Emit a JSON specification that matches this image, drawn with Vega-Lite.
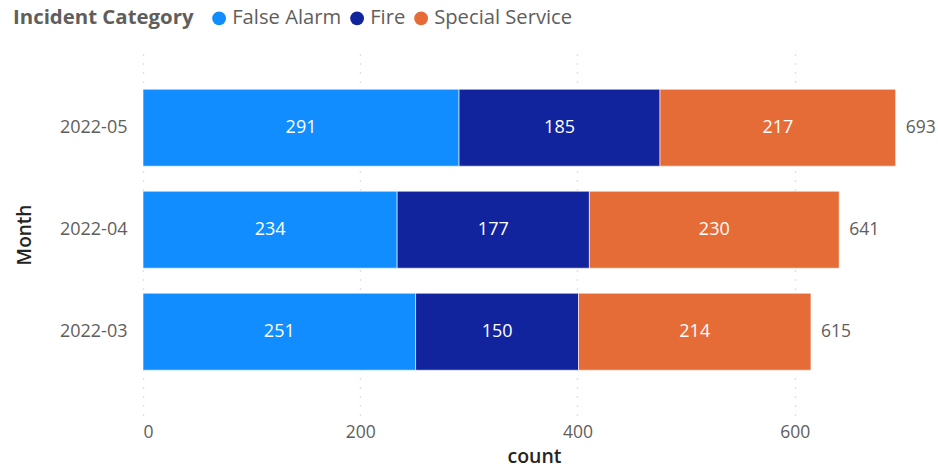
{
  "$schema": "https://vega.github.io/schema/vega-lite/v6.json",
  "autosize": "none",
  "width": 782,
  "height": 361,
  "padding": {"left": 143, "top": 54, "right": 13, "bottom": 58},
  "background": "white",
  "config": {
    "font": "Open Sans",
    "view": {"stroke": null}
  },
  "data": {
    "values": [
      {"Month": "2022-05", "Incident Category": "False Alarm", "count": 291, "ord": 1},
      {"Month": "2022-05", "Incident Category": "Fire", "count": 185, "ord": 2},
      {"Month": "2022-05", "Incident Category": "Special Service", "count": 217, "ord": 3},
      {"Month": "2022-04", "Incident Category": "False Alarm", "count": 234, "ord": 1},
      {"Month": "2022-04", "Incident Category": "Fire", "count": 177, "ord": 2},
      {"Month": "2022-04", "Incident Category": "Special Service", "count": 230, "ord": 3},
      {"Month": "2022-03", "Incident Category": "False Alarm", "count": 251, "ord": 1},
      {"Month": "2022-03", "Incident Category": "Fire", "count": 150, "ord": 2},
      {"Month": "2022-03", "Incident Category": "Special Service", "count": 214, "ord": 3}
    ]
  },
  "encoding": {
    "y": {
      "field": "Month",
      "type": "nominal",
      "sort": "descending",
      "scale": {"paddingInner": 0.245, "paddingOuter": 0.392, "align": 0.44},
      "axis": {
        "title": "Month",
        "titleFontSize": 19,
        "titleFontWeight": 600,
        "titleColor": "#252423",
        "titlePadding": 25,
        "labelFontSize": 18,
        "labelColor": "#605E5C",
        "labelPadding": 16,
        "ticks": false,
        "domain": false
      }
    }
  },
  "layer": [
    {
      "mark": {"type": "bar", "stroke": "white", "strokeWidth": 0.6},
      "encoding": {
        "x": {
          "field": "count",
          "type": "quantitative",
          "stack": "zero",
          "scale": {"domain": [0, 720], "nice": false},
          "axis": {
            "title": "count",
            "titleFontSize": 19.5,
            "titleFontWeight": 600,
            "titleColor": "#252423",
            "titlePadding": 7,
            "values": [0, 200, 400, 600],
            "labelFontSize": 17.5,
            "labelColor": "#605E5C",
            "labelPadding": 8,
            "ticks": false,
            "domain": false,
            "grid": true,
            "gridColor": "#C8C6C4",
            "gridDash": [1, 8],
            "gridWidth": 1.5
          }
        },
        "color": {
          "field": "Incident Category",
          "type": "nominal",
          "scale": {
            "domain": ["False Alarm", "Fire", "Special Service"],
            "range": ["#118DFF", "#12239E", "#E66C37"]
          },
          "legend": {
            "orient": "none",
            "legendX": -130,
            "legendY": -46,
            "direction": "horizontal",
            "titleOrient": "left",
            "title": "Incident Category",
            "titleLimit": 400,
            "titleFontSize": 20.4,
            "titleFontWeight": "bold",
            "titleColor": "#605E5C",
            "titlePadding": 15,
            "labelFontSize": 20.2,
            "labelLimit": 400,
            "labelColor": "#605E5C",
            "labelOffset": 3,
            "symbolType": "circle",
            "symbolSize": 190,
            "symbolStrokeWidth": 0,
            "columnPadding": 5
          }
        },
        "order": {"field": "ord", "type": "quantitative"}
      }
    },
    {
      "transform": [
        {"stack": "count", "groupby": ["Month"], "sort": [{"field": "ord"}], "as": ["x0", "x1"]},
        {"calculate": "(datum.x0 + datum.x1) / 2", "as": "mid"}
      ],
      "mark": {"type": "text", "color": "white", "fontSize": 18, "align": "center", "baseline": "middle"},
      "encoding": {
        "x": {"field": "mid", "type": "quantitative"},
        "text": {"field": "count", "type": "quantitative"}
      }
    },
    {
      "transform": [
        {"aggregate": [{"op": "sum", "field": "count", "as": "total"}], "groupby": ["Month"]}
      ],
      "mark": {"type": "text", "color": "#605E5C", "fontSize": 17.5, "align": "left", "baseline": "middle", "dx": 10},
      "encoding": {
        "x": {"field": "total", "type": "quantitative"},
        "text": {"field": "total", "type": "quantitative"}
      }
    }
  ]
}
